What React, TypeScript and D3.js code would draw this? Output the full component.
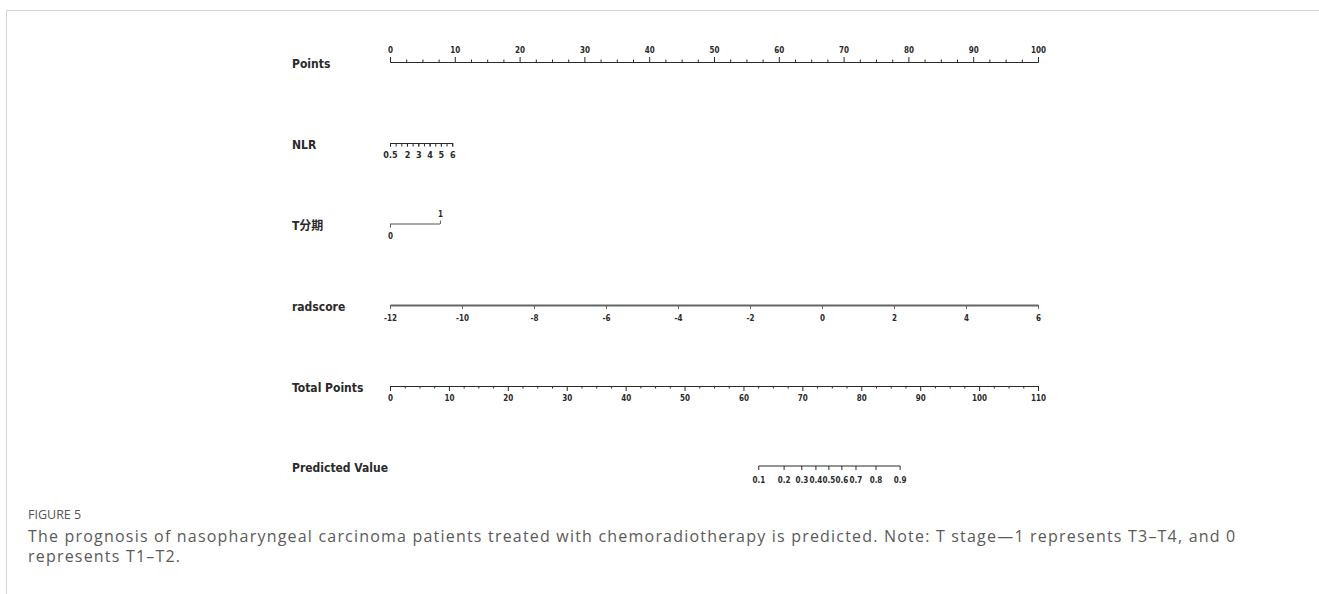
import React, { useEffect, useRef } from 'react';
import * as d3 from 'd3';

// nomogram rows
const rowNames = ['Points', 'NLR', 'T分期', 'radscore', 'Total Points', 'Predicted Value'];

const pointsLabels = [0, 10, 20, 30, 40, 50, 60, 70, 80, 90, 100];
const pointsMinor = [2.5, 5, 7.5, 12.5, 15, 17.5, 22.5, 25, 27.5, 32.5, 35, 37.5, 42.5, 45, 47.5, 52.5, 55, 57.5, 62.5, 65, 67.5, 72.5, 75, 77.5, 82.5, 85, 87.5, 92.5, 95, 97.5];

const nlrTicks = [0.5, 1, 1.5, 2, 2.5, 3, 3.5, 4, 4.5, 5, 5.5, 6];
const nlrLabels = [0.5, 2, 3, 4, 5, 6];
const nlrPoints = [0, 9.6]; // points for NLR 0.5 and 6

const tStageValues = [0, 1];
const tStagePoints = [0, 7.7];

const radscoreLabels = [-12, -10, -8, -6, -4, -2, 0, 2, 4, 6];

const totalLabels = [0, 10, 20, 30, 40, 50, 60, 70, 80, 90, 100, 110];
const totalMinor = [2.5, 5, 7.5, 12.5, 15, 17.5, 22.5, 25, 27.5, 32.5, 35, 37.5, 42.5, 45, 47.5, 52.5, 55, 57.5, 62.5, 65, 67.5, 72.5, 75, 77.5, 82.5, 85, 87.5, 92.5, 95, 97.5, 102.5, 105, 107.5];

const predictedLabels = ['0.1', '0.2', '0.3', '0.4', '0.5', '0.6', '0.7', '0.8', '0.9'];
const predictedTotal = [62.6, 66.9, 69.9, 72.3, 74.5, 76.7, 79.1, 82.5, 86.6];

const captionTitle = 'FIGURE 5';
const captionLines = [
    'The prognosis of nasopharyngeal carcinoma patients treated with chemoradiotherapy is predicted. Note: T stage\u20141 represents T3\u2013T4, and 0',
    'represents T1\u2013T2.'
];

function App() {
    const ref = useRef<SVGSVGElement>(null);

    useEffect(() => {
        const width = 1319;
        const height = 594;
        const svg = d3.select(ref.current);
        svg.selectAll('*').remove();
        svg.attr('width', width).attr('height', height).style('background', 'white');

        // figure border
        svg.append('path')
            .attr('d', `M6.5,${height} V10.5 H${width}`)
            .attr('fill', 'none')
            .attr('stroke', '#d4d4d4')
            .attr('stroke-width', 1);

        const x0 = 390;
        const x1 = 1038;
        const rowY = [62, 143, 224, 305, 386, 466];
        const labelFont = '"DejaVu Sans Condensed", "Noto Sans CJK SC", sans-serif';
        const tickFont = '"DejaVu Sans Condensed", sans-serif';
        const ink = '#2a2a2a';

        // row labels
        svg.append('g').selectAll('text')
            .data(rowNames)
            .join('text')
            .attr('x', 292)
            .attr('y', (d, i) => rowY[i] + 6)
            .attr('font-family', labelFont)
            .attr('font-weight', 'bold')
            .attr('font-size', 12)
            .attr('fill', ink)
            .text(d => d);

        const points = d3.scaleLinear().domain([0, 100]).range([x0, x1]);
        const total = d3.scaleLinear().domain([0, 110]).range([x0, x1]);

        const styleAxis = (g: any, strokeW = 1, color = ink, fs = 8) => {
            g.select('.domain').attr('stroke', color).attr('stroke-width', strokeW);
            g.selectAll('.tick line').attr('stroke', color);
            g.selectAll('.tick text')
                .attr('font-family', tickFont)
                .attr('font-weight', 'bold')
                .attr('font-size', fs)
                .attr('fill', ink);
        };

        // Points axis (ticks up)
        const pg = svg.append('g').attr('transform', `translate(0,${rowY[0]})`);
        pg.append('g')
            .call(d3.axisTop(points).tickValues(pointsMinor).tickSize(2.5).tickSizeOuter(0).tickFormat(() => ''))
            .call(styleAxis);
        pg.append('g')
            .call(d3.axisTop(points).tickValues(pointsLabels).tickSize(5).tickSizeOuter(0).tickPadding(4).tickFormat(d => String(d)))
            .call(styleAxis);

        // NLR axis (ticks down)
        const nlr = d3.scaleLinear().domain([0.5, 6]).range([points(nlrPoints[0]), points(nlrPoints[1])]);
        const ng = svg.append('g').attr('transform', `translate(0,${rowY[1]})`);
        ng.append('g')
            .call(d3.axisBottom(nlr).tickValues(nlrTicks).tickSize(3.5).tickSizeOuter(0).tickFormat(() => ''))
            .call(styleAxis);
        ng.append('g')
            .call(d3.axisBottom(nlr).tickValues(nlrLabels).tickSize(3.5).tickSizeOuter(0).tickPadding(5).tickFormat(d => String(d)))
            .call(styleAxis, 1, ink, 9);

        // T stage
        const tScale = d3.scaleLinear().domain(tStageValues).range([points(tStagePoints[0]), points(tStagePoints[1])]);
        const tg = svg.append('g').attr('transform', `translate(0,${rowY[2]})`);
        tg.append('line')
            .attr('x1', tScale(0)).attr('x2', tScale(1))
            .attr('stroke', '#555').attr('stroke-width', 1);
        tg.append('g')
            .call(d3.axisBottom(tScale).tickValues([0]).tickSize(3.5).tickSizeOuter(0).tickPadding(6).tickFormat(d => String(d)))
            .call(styleAxis, 1, '#555')
            .select('.domain').remove();
        tg.append('g')
            .call(d3.axisTop(tScale).tickValues([1]).tickSize(3.5).tickSizeOuter(0).tickPadding(4).tickFormat(d => String(d)))
            .call(styleAxis, 1, '#555')
            .select('.domain').remove();

        // radscore
        const rad = d3.scaleLinear().domain([-12, 6]).range([x0, x1]);
        svg.append('g')
            .attr('transform', `translate(0,${rowY[3]})`)
            .call(d3.axisBottom(rad).tickValues(radscoreLabels).tickSize(4).tickSizeOuter(0).tickPadding(6).tickFormat(d => String(d)))
            .call(styleAxis, 2, '#666');

        // Total Points
        const tpg = svg.append('g').attr('transform', `translate(0,${rowY[4]})`);
        tpg.append('g')
            .call(d3.axisBottom(total).tickValues(totalMinor).tickSize(2.5).tickSizeOuter(0).tickFormat(() => ''))
            .call(styleAxis);
        tpg.append('g')
            .call(d3.axisBottom(total).tickValues(totalLabels).tickSize(5).tickSizeOuter(0).tickPadding(4).tickFormat(d => String(d)))
            .call(styleAxis);

        // Predicted Value
        const pvg = svg.append('g').attr('transform', `translate(0,${rowY[5]})`);
        pvg.append('line')
            .attr('x1', total(predictedTotal[0]))
            .attr('x2', total(predictedTotal[predictedTotal.length - 1]))
            .attr('stroke', ink);
        const pv = pvg.selectAll('g.pv')
            .data(predictedLabels)
            .join('g')
            .attr('class', 'pv')
            .attr('transform', (d, i) => `translate(${total(predictedTotal[i])},0)`);
        pv.append('line').attr('y2', 4).attr('stroke', ink);
        pv.append('text')
            .attr('y', 17)
            .attr('text-anchor', 'middle')
            .attr('font-family', tickFont)
            .attr('font-weight', 'bold')
            .attr('font-size', 8)
            .attr('fill', ink)
            .text(d => d);

        // caption
        svg.append('text')
            .attr('x', 28)
            .attr('y', 519)
            .attr('font-family', '"Open Sans", sans-serif')
            .attr('font-size', 12.5)
            .attr('fill', '#555')
            .text(captionTitle);
        svg.append('g').selectAll('text')
            .data(captionLines)
            .join('text')
            .attr('x', 28)
            .attr('y', (d, i) => 542 + i * 20)
            .attr('font-family', '"Open Sans", sans-serif')
            .attr('font-size', 16)
            .attr('letter-spacing', 1.2)
            .attr('fill', '#5a5a5a')
            .text(d => d);
    }, []);

    return (
        <div style={{ position: 'absolute', left: 0, top: 0 }}>
            <svg ref={ref}></svg>
        </div>
    );
}

export default App;
